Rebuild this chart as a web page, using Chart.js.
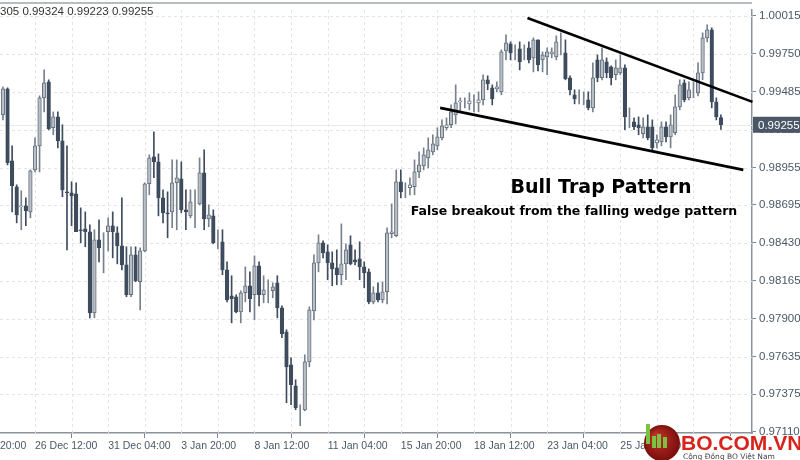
<!DOCTYPE html>
<html><head><meta charset="utf-8">
<script src="https://cdn.jsdelivr.net/npm/chart.js@4.4.1/dist/chart.umd.min.js"></script>
<style>html,body{margin:0;padding:0;background:#fff}#wrap{width:800px;height:460px}</style>
</head><body><div id="wrap"><canvas id="c"></canvas></div>
<script>
// prices in points of 0.00001
const POINT = 0.00001;
const openPts = [99324,99506,99003,98822,98682,98689,98647,98940,99108,99443,99555,99234,99310,99143,98787,98780,98773,98522,98529,98508,97942,98452,98438,98508,98550,98501,98410,98277,98068,98347,98159,98375,98843,99031,98996,98745,98640,98647,98850,98878,98661,98619,98710,98703,98919,98598,98619,98438,98438,98242,98061,98054,97949,98082,98131,98068,98270,98068,98089,98096,98152,97977,97810,97579,97433,97265,97265,97600,97956,98291,98431,98368,98291,98256,98208,98284,98417,98312,98319,98263,98228,98019,98082,98033,98089,98494,98480,98857,98801,98815,98822,98926,98968,99024,99066,99108,99164,99234,99255,99324,99415,99415,99401,99408,99408,99429,99569,99513,99506,99485,99771,99820,99764,99785,99778,99792,99722,99848,99708,99729,99750,99729,99820,99757,99583,99464,99436,99436,99429,99373,99708,99583,99694,99659,99604,99617,99652,99310,99275,99255,99192,99241,99241,99129,99136,99241,99171,99199,99380,99548,99443,99499,99478,99617,99862,99918,99415,99305];
const closePts = [99506,98989,98829,98626,98689,98654,98933,99108,99443,99548,99227,99310,99143,98801,98780,98759,98508,98515,98508,97942,98452,98396,98438,98550,98508,98410,98277,98068,98347,98166,98375,98843,99024,98996,98745,98640,98633,98850,98885,98661,98647,98717,98710,98919,98598,98626,98431,98438,98242,98033,98040,97949,98082,98131,98040,98270,98068,98103,98089,98124,97977,97796,97565,97440,97279,97265,97600,97963,98291,98431,98361,98291,98249,98208,98284,98382,98284,98298,98263,98221,98019,98082,98033,98089,98501,98508,98857,98787,98801,98836,98926,98975,99045,99080,99122,99171,99248,99255,99345,99408,99422,99415,99422,99408,99429,99569,99541,99436,99520,99764,99827,99757,99764,99694,99778,99708,99848,99673,99743,99764,99764,99834,99820,99576,99499,99436,99436,99436,99373,99583,99583,99708,99617,99583,99652,99652,99310,99310,99241,99234,99241,99164,99094,99150,99241,99171,99255,99380,99534,99429,99499,99499,99617,99862,99918,99415,99310,99255];
const highPts = [99520,99513,99108,98836,98794,98745,98940,99164,99457,99638,99569,99345,99345,99255,99108,98857,98850,98675,98647,98557,98522,98591,98501,98605,98647,98543,98745,98403,98403,98403,98396,98850,99045,99206,99052,98801,98787,99010,99010,98996,98801,98801,98801,99024,99080,98696,98661,98522,98522,98298,98201,98068,98096,98263,98228,98340,98298,98201,98173,98152,98201,97991,97824,97628,97475,97300,97649,97984,98347,98487,98445,98417,98368,98382,98563,98424,98480,98382,98438,98298,98249,98124,98152,98159,98536,98703,98940,98940,98850,98885,99010,99066,99094,99164,99185,99234,99289,99303,99394,99534,99443,99443,99478,99464,99485,99604,99597,99534,99555,99778,99883,99834,99813,99834,99813,99834,99862,99848,99764,99792,99792,99876,99897,99848,99597,99499,99499,99485,99485,99687,99743,99792,99722,99666,99708,99743,99673,99373,99303,99310,99303,99324,99289,99185,99275,99275,99324,99464,99569,99569,99555,99555,99687,99897,99953,99932,99443,99324];
const lowPts = [99289,98975,98647,98570,98522,98550,98605,98926,98926,99345,99220,99185,99094,98752,98382,98550,98508,98431,98403,97907,97907,98298,98221,98375,98326,98284,98242,98054,98054,98159,97963,98368,98766,98885,98619,98570,98466,98536,98522,98640,98522,98605,98536,98696,98522,98543,98424,98389,98208,98019,97872,97942,97872,98019,97949,97893,97991,98012,98012,98047,97907,97768,97314,97300,97265,97154,97258,97565,97893,98228,98326,98173,98131,98138,98138,98173,98277,98277,98173,98117,98005,98005,98019,98012,98005,98466,98473,98745,98745,98766,98766,98885,98940,98954,99045,99080,99150,99220,99234,99261,99345,99373,99359,99345,99345,99394,99499,99394,99485,99464,99708,99708,99708,99638,99708,99687,99624,99631,99624,99604,99722,99708,99743,99569,99464,99401,99401,99394,99359,99345,99555,99569,99583,99534,99569,99604,99220,99234,99220,99185,99164,99150,99080,99094,99108,99136,99094,99185,99359,99415,99429,99443,99457,99569,99834,99373,99289,99223];
const yTickValues = [0.97110,0.97375,0.97635,0.97900,0.98165,0.98430,0.98695,0.98955,0.99220,0.99485,0.99750,1.00015];
const xTickIndex = [7,23,39,55,71,87,103,119,135,151];
const xTickLabels = ["26 Dec 12:00","31 Dec 04:00","3 Jan 20:00","8 Jan 12:00","11 Jan 04:00","15 Jan 20:00","18 Jan 12:00","23 Jan 04:00","25 Jan 20:00","30 Jan 12:00"];
const wedgeUpper = [[114.7,1.00001],[163.9,0.99415]];
const wedgeLower = [[95.6,0.99373],[161.9,0.98940]];
const lastPrice = 0.99255;

const BEAR = '#3e4c5e', BULL = '#b9bfc6', BULLB = '#66717e';
const FONT = 'Liberation Sans';
const n = openPts.length;
const bodies = [], wicks = [];
for (let i = 0; i < n; i++) {
  const o = openPts[i]*POINT, c = closePts[i]*POINT;
  bodies.push({x:i, y:[o, c], bull: c >= o, small: Math.abs(closePts[i]-openPts[i]) < 25});
  wicks.push({x:i, y:[lowPts[i]*POINT, highPts[i]*POINT], bull: c >= o});
}

const overlay = {
  id:'overlay',
  beforeDatasetsDraw(ch){
    const {ctx, scales:{x,y}, chartArea:a} = ch;
    ctx.save();
    ctx.strokeStyle='#e4e4e4'; ctx.lineWidth=1; ctx.setLineDash([3,3]);
    yTickValues.slice(1).forEach(v=>{const p=Math.round(y.getPixelForValue(v))+0.5; ctx.beginPath(); ctx.moveTo(a.left,p); ctx.lineTo(a.right,p); ctx.stroke();});
    for(let i=-1;i<=163;i+=8){const p=Math.round(x.getPixelForValue(i))+0.5; if(p<a.left||p>a.right) continue; ctx.beginPath(); ctx.moveTo(p,a.top); ctx.lineTo(p,a.bottom); ctx.stroke();}
    ctx.setLineDash([]);
    const py = Math.round(y.getPixelForValue(lastPrice))+0.5;
    ctx.strokeStyle='#e8eaec'; ctx.lineWidth=1.2;
    ctx.beginPath(); ctx.moveTo(a.left, py); ctx.lineTo(a.right, py); ctx.stroke();
    ctx.strokeStyle='#a0a6ad'; ctx.lineWidth=1.5;
    ctx.beginPath(); ctx.moveTo(a.left, 3); ctx.lineTo(a.right, 3); ctx.stroke();
    ctx.restore();
  },
  afterDatasetsDraw(ch){
    const {ctx, scales:{x,y}, chartArea:a} = ch;
    ctx.save();
    ctx.strokeStyle='#000'; ctx.lineWidth=2.6;
    [wedgeUpper, wedgeLower].forEach(L=>{
      ctx.beginPath();
      ctx.moveTo(x.getPixelForValue(L[0][0]), y.getPixelForValue(L[0][1]));
      ctx.lineTo(x.getPixelForValue(L[1][0]), y.getPixelForValue(L[1][1]));
      ctx.stroke();
    });
    ctx.fillStyle='#000';
    ctx.font='bold 19px "DejaVu Sans"'; ctx.textAlign='center'; ctx.textBaseline='middle';
    ctx.fillText('Bull Trap Pattern', 601, 188);
    ctx.font='bold 12.5px "DejaVu Sans"';
    ctx.fillText('False breakout from the falling wedge pattern', 574, 212);
    ctx.textAlign='left'; ctx.font='11.5px "'+FONT+'"'; ctx.fillStyle='#333';
    ctx.fillText('305 0.99324 0.99223 0.99255', 0, 12);
    const py = y.getPixelForValue(lastPrice);
    ctx.fillStyle='#4a5766'; ctx.fillRect(a.right+1, py-8, 48, 16);
    ctx.fillStyle='#fff'; ctx.font='11.5px "'+FONT+'"'; ctx.fillText('0.99255', a.right+6, py+1);
    ctx.beginPath(); ctx.arc(662,443,18,0,Math.PI*2);
    const g = ctx.createRadialGradient(656,436,2,662,443,18);
    g.addColorStop(0,'#c0302a'); g.addColorStop(1,'#7a0f0c'); ctx.fillStyle=g; ctx.fill();
    ctx.fillStyle='#7cc242';
    [[646,424,4,20],[652,436,4,12],[657,434,4,14],[663,437,4,11]].forEach(r=>ctx.fillRect(...r));
    ctx.fillStyle='#fff'; ctx.fillRect(681,436,119,24);
    ctx.fillStyle='#d8241b'; ctx.font='bold 21px "Liberation Sans"'; ctx.textBaseline='alphabetic';
    ctx.fillText('BO.COM.VN', 681, 450);
    ctx.fillStyle='#444'; ctx.font='7.5px "DejaVu Sans"'; ctx.fillText('Cộng Đồng BO Việt Nam', 683, 459);
    ctx.restore();
  }
};

new Chart(document.getElementById('c'), {
  type:'bar',
  data:{datasets:[
    {data:wicks, barThickness:1, grouped:false, order:2,
     backgroundColor:ctx=>ctx.raw && ctx.raw.bull ? '#77818d' : BEAR},
    {data:bodies, barThickness:3.6, grouped:false, order:1, borderSkipped:false, borderWidth:1,
     backgroundColor:ctx=>ctx.raw ? (ctx.raw.bull ? (ctx.raw.small ? '#fff' : BULL) : BEAR) : BEAR,
     borderColor:ctx=>ctx.raw && ctx.raw.bull ? BULLB : BEAR}
  ]},
  options:{
    responsive:true, maintainAspectRatio:false, animation:false,
    layout:{padding:{top:0,left:0,right:0,bottom:0}},
    plugins:{legend:{display:false}, tooltip:{enabled:false}},
    scales:{
      x:{type:'linear', min:-0.65, max:163.8, offset:false, bounds:'data',
        afterBuildTicks:s=>{s.ticks=xTickIndex.map(v=>({value:v}));},
        afterFit:s=>{s.height=27;},
        ticks:{autoSkip:false, maxRotation:0, align:'start', color:'#4a5866', font:{size:10.5,family:FONT}, padding:2,
          callback:v=>{const k=xTickIndex.indexOf(Math.round(v)); return k>=0?xTickLabels[k]:'';}},
        grid:{display:true, drawOnChartArea:false, tickColor:'#7a8590', tickLength:5},
        border:{display:true,color:'#8a939c',width:1.5},
      },
      y:{position:'right', min:0.97103, max:1.00057,
        afterBuildTicks:s=>{s.ticks=yTickValues.map(v=>({value:v}));},
        afterFit:s=>{s.width=48;},
        ticks:{color:'#4a5866', font:{size:11.5,family:FONT}, padding:3, callback:v=>v.toFixed(5)},
        grid:{drawOnChartArea:false, tickColor:'#7a8590', tickLength:4},
        border:{color:'#8a939c',width:1.5}
      }
    }
  },
  plugins:[overlay, {id:'lbl', afterDraw(ch){const c=ch.ctx; c.save(); c.font='10.5px "'+FONT+'"'; c.fillStyle='#4a5866'; c.textBaseline='top'; c.fillText('20:00',0,441); c.restore();}}]
});
</script></body></html>
